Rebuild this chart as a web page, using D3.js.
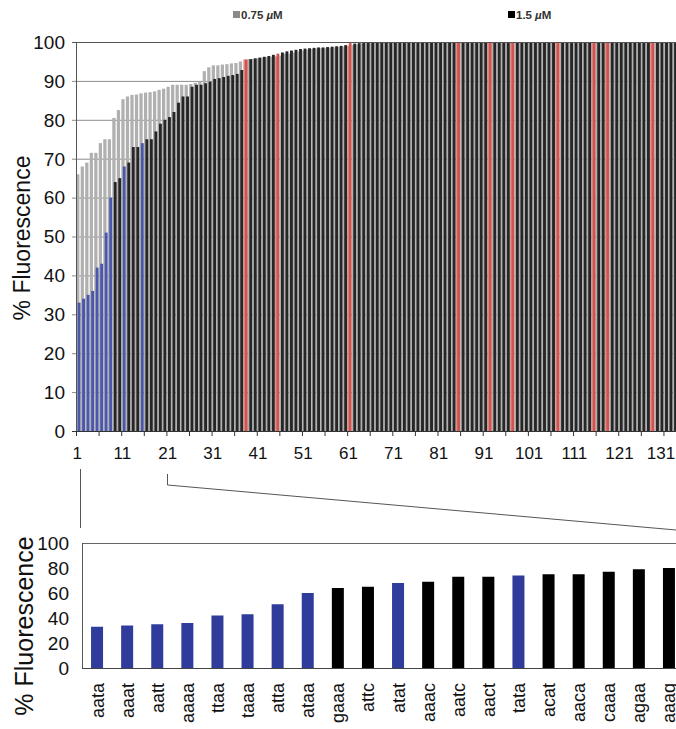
<!DOCTYPE html>
<html>
<head>
<meta charset="utf-8">
<script src="https://cdnjs.cloudflare.com/ajax/libs/d3/7.8.5/d3.min.js"></script>
<style>
  body { margin: 0; background: #fff; }
  svg { display: block; font-family: "Liberation Sans", Arial, sans-serif; }
</style>
</head>
<body>
<svg></svg>
<script>
var width = 676;
var height = 729;

// top panel: 0.75 uM series (gray, behind) and 1.5 uM series (black / coloured, in front)
var low = [
  66, 68, 69, 71.5, 71.5, 74, 75, 75, 80.5, 82.5,
  85.3, 86, 86.4, 86.5, 86.8, 87, 87.1, 87.3, 87.7, 88,
  88.5, 89, 89, 89, 89, 89.2, 89.5, 89.8, 92.5, 93.5,
  94, 94, 94.2, 94.3, 94.5, 94.6, 95, 95.5, 95.6, 95.7,
  95.8, 96, 96.1, 96.2, 96.3, 96.5, 97, 97, 97.3, 97.6,
  97.8, 98, 98.2, 98.3, 98.4, 98.4, 98.5, 98.6, 98.7, 98.8,
  99, 99.2, 99.4, 99.6, 99.7, 99.7, 99.8, 99.8, 99.8, 99.9,
  100, 100, 100, 100, 100, 100, 100, 100, 100, 100,
  100, 100, 100, 100, 100, 100, 100, 100, 100, 100,
  100, 100, 100, 100, 100, 100, 100, 100, 100, 100,
  100, 100, 100, 100, 100, 100, 100, 100, 100, 100,
  100, 100, 100, 100, 100, 100, 100, 100, 100, 100,
  100, 100, 100, 100, 100, 100, 100, 100, 100, 100,
  100, 100, 100
];
var high = [
  33, 34, 35, 36, 42, 43, 51, 60, 64, 65,
  68, 69, 73, 73, 74, 75, 75, 77, 79, 80,
  80.7, 82, 84.4, 86, 86, 88.5, 89, 89, 89.4, 89.8,
  90.5, 90.7, 91, 91.3, 91.5, 91.8, 92.8, 95.5, 95.6, 95.8,
  96, 96.2, 96.4, 96.7, 97, 97.3, 97.6, 97.8, 98, 98.2,
  98.3, 98.4, 98.5, 98.6, 98.6, 98.7, 98.8, 98.9, 99, 99.2,
  99.7, 99.6, 99.7, 99.8, 99.8, 99.9, 99.9, 100, 100, 100,
  100, 100, 100, 100, 100, 100, 100, 100, 100, 100,
  100, 100, 100, 100, 100, 100, 100, 100, 100, 100,
  100, 100, 100, 100, 100, 100, 100, 100, 100, 100,
  100, 100, 100, 100, 100, 100, 100, 100, 100, 100,
  100, 100, 100, 100, 100, 100, 100, 100, 100, 100,
  100, 100, 100, 100, 100, 100, 100, 100, 100, 100,
  100, 100, 100
];
var blueIds = [1, 2, 3, 4, 5, 6, 7, 8, 11, 15];
var redIds = [38, 45, 61, 85, 92, 97, 107, 115, 118, 128];
var topTickLabels = [1, 11, 21, 31, 41, 51, 61, 71, 81, 91, 101, 111, 121, 131];
var topYTicks = [0, 10, 20, 30, 40, 50, 60, 70, 80, 90, 100];

// bottom panel: first 20 sequences
var seqs = ["aata", "aaat", "aatt", "aaaa", "ttaa", "taaa", "atta", "ataa", "gaaa", "attc",
            "atat", "aaac", "aatc", "aact", "tata", "acat", "aaca", "caaa", "agaa", "aaag"];
var seqValues = [33, 34, 35, 36, 42, 43, 51, 60, 64, 65, 68, 69, 73, 73, 74, 75, 75, 77, 79, 80];
var bottomYTicks = [0, 20, 40, 60, 80, 100];

var cats = d3.range(1, low.length + 1);

var svg = d3.select('svg')
    .attr('width', width)
    .attr('height', height);

// ---------- top chart ----------
var x = d3.scaleBand().domain(cats).range([76, 677]);
var y = d3.scaleLinear().domain([0, 100]).range([431, 42]);
var bw = x.bandwidth();

svg.append('g')
  .selectAll('line')
  .data(topYTicks.filter(function (t) { return t > 0 && t < 100; }))
  .enter().append('line')
    .attr('x1', 72).attr('x2', width)
    .attr('y1', function (d) { return y(d) + 0.5; })
    .attr('y2', function (d) { return y(d) + 0.5; })
    .attr('stroke', '#8c8c8c');

var barColor = function (id) {
  if (blueIds.indexOf(id) >= 0) return '#4b57ad';
  if (redIds.indexOf(id) >= 0) return '#cf5550';
  return '#262626';
};
var backColor = function (id) {
  if (redIds.indexOf(id) >= 0) return '#de8f8a';
  return '#b0b0b0';
};

svg.append('g')
  .selectAll('rect')
  .data(cats)
  .enter().append('rect')
    .attr('x', function (d) { return x(d) + 0.15; })
    .attr('width', bw * 0.72)
    .attr('y', function (d) { return y(low[d - 1]); })
    .attr('height', function (d) { return y(0) - y(low[d - 1]); })
    .attr('fill', backColor);

svg.append('g')
  .selectAll('rect')
  .data(cats)
  .enter().append('rect')
    .attr('x', function (d) { return x(d) + bw * 0.36; })
    .attr('width', bw * 0.64)
    .attr('y', function (d) { return y(high[d - 1]); })
    .attr('height', function (d) { return y(0) - y(high[d - 1]); })
    .attr('fill', barColor);

// frame lines
svg.append('line').attr('x1', 76).attr('x2', width).attr('y1', 42.5).attr('y2', 42.5).attr('stroke', '#555');
svg.append('line').attr('x1', 76.5).attr('x2', 76.5).attr('y1', 42).attr('y2', 431).attr('stroke', '#555');
svg.append('line').attr('x1', 72).attr('x2', 76).attr('y1', 42.5).attr('y2', 42.5).attr('stroke', '#555');
svg.append('line').attr('x1', 72).attr('x2', width).attr('y1', 431.5).attr('y2', 431.5).attr('stroke', '#333');

// x ticks every 5 categories
svg.append('g')
  .selectAll('line')
  .data(cats.filter(function (d) { return (d - 1) % 5 === 0; }))
  .enter().append('line')
    .attr('x1', function (d) { return x(d) + 0.5; })
    .attr('x2', function (d) { return x(d) + 0.5; })
    .attr('y1', 431).attr('y2', 436)
    .attr('stroke', '#333');

svg.append('g')
  .selectAll('text')
  .data(topTickLabels)
  .enter().append('text')
    .attr('x', function (d) { return Math.min(x(d) + bw / 2 - 1, width - 15); })
    .attr('y', 459)
    .attr('text-anchor', 'middle')
    .attr('font-size', 17)
    .attr('fill', '#111')
    .text(function (d) { return d; });

svg.append('g')
  .selectAll('text')
  .data(topYTicks)
  .enter().append('text')
    .attr('x', 65)
    .attr('y', function (d) { return y(d); })
    .attr('dy', '0.36em')
    .attr('text-anchor', 'end')
    .attr('font-size', 19)
    .attr('fill', '#111')
    .text(function (d) { return d; });

svg.append('text')
  .attr('transform', 'translate(30,238) rotate(-90)')
  .attr('text-anchor', 'middle')
  .attr('font-size', 23)
  .attr('fill', '#111')
  .text('% Fluorescence');

// legend
var legend = [
  { label: '0.75', color: '#8a8a8a', x: 233 },
  { label: '1.5', color: '#000', x: 508 }
];
var lg = svg.append('g').selectAll('g').data(legend).enter().append('g')
  .attr('transform', function (d) { return 'translate(' + d.x + ',0)'; });
lg.append('rect').attr('x', 0).attr('y', 11).attr('width', 7).attr('height', 7).attr('fill', function (d) { return d.color; });
var lt = lg.append('text').attr('x', 8).attr('y', 18.5).attr('font-size', 11.5).attr('font-weight', 'bold').attr('fill', '#333');
lt.append('tspan').text(function (d) { return d.label; });
lt.append('tspan').attr('dx', 3).attr('font-style', 'italic').text('\u00b5');
lt.append('tspan').text('M');

// connector lines
svg.append('line').attr('x1', 80.5).attr('x2', 80.5).attr('y1', 469).attr('y2', 528).attr('stroke', '#555');
svg.append('path')
  .attr('d', 'M167.5,474 L167.5,485 L676,530')
  .attr('fill', 'none')
  .attr('stroke', '#555');

// ---------- bottom chart ----------
var xb = d3.scaleBand().domain(seqs).range([82, 82 + 30.1 * seqs.length]);
var yb = d3.scaleLinear().domain([0, 100]).range([668, 543]);
var bbw = 12;

svg.append('line').attr('x1', 82).attr('x2', width).attr('y1', 543.5).attr('y2', 543.5).attr('stroke', '#666');
svg.append('line').attr('x1', 82.5).attr('x2', 82.5).attr('y1', 543).attr('y2', 668).attr('stroke', '#555');

svg.append('g')
  .selectAll('rect')
  .data(seqs)
  .enter().append('rect')
    .attr('x', function (d) { return xb(d) + (xb.bandwidth() - bbw) / 2; })
    .attr('width', bbw)
    .attr('y', function (d, i) { return yb(seqValues[i]); })
    .attr('height', function (d, i) { return yb(0) - yb(seqValues[i]); })
    .attr('fill', function (d, i) { return blueIds.indexOf(i + 1) >= 0 ? '#2f3c9c' : '#000'; });

svg.append('line').attr('x1', 82).attr('x2', width).attr('y1', 668.5).attr('y2', 668.5).attr('stroke', '#444');

svg.append('g')
  .selectAll('text')
  .data(bottomYTicks)
  .enter().append('text')
    .attr('x', 69)
    .attr('y', function (d) { return yb(d); })
    .attr('dy', '0.36em')
    .attr('text-anchor', 'end')
    .attr('font-size', 19)
    .attr('fill', '#111')
    .text(function (d) { return d; });

svg.append('g')
  .selectAll('text')
  .data(seqs)
  .enter().append('text')
    .attr('transform', function (d) {
      return 'translate(' + (xb(d) + xb.bandwidth() / 2) + ',683) rotate(-90)';
    })
    .attr('dy', '0.36em')
    .attr('text-anchor', 'end')
    .attr('font-size', 18)
    .attr('fill', '#111')
    .text(function (d) { return d; });

svg.append('text')
  .attr('transform', 'translate(33,626) rotate(-90)')
  .attr('text-anchor', 'middle')
  .attr('font-size', 25)
  .attr('fill', '#111')
  .text('% Fluorescence');
</script>
</body>
</html>
